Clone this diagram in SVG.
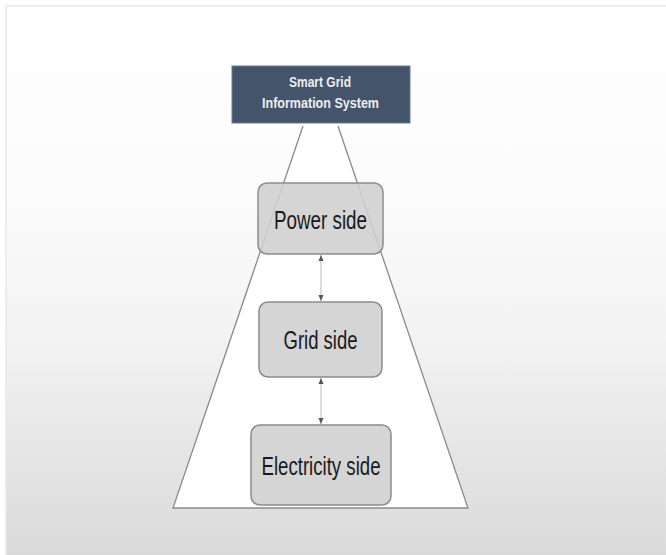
<svg xmlns="http://www.w3.org/2000/svg" width="666" height="555" viewBox="0 0 666 555">
<defs>
<linearGradient id="bg" x1="0" y1="0" x2="0" y2="1">
<stop offset="0" stop-color="#ffffff"/>
<stop offset="0.35" stop-color="#fbfbfb"/>
<stop offset="0.6" stop-color="#f3f3f3"/>
<stop offset="1" stop-color="#dadada"/>
</linearGradient>
<marker id="ah" viewBox="0 0 6 6" refX="6" refY="3" markerWidth="6" markerHeight="6" orient="auto-start-reverse" markerUnits="userSpaceOnUse">
<path d="M0,0.5 L6,3 L0,5.5 Z" fill="#555"/>
</marker>
<style>
.side{fill:#cfcfcf;fill-opacity:0.88;stroke:#8c8c8c;stroke-width:1.5}
.lbl{font-family:"Liberation Sans",Arial,sans-serif;font-size:26px;fill:#1a1a1a;text-anchor:middle}
.hdr{font-family:"Liberation Sans",Arial,sans-serif;font-size:14.5px;font-weight:bold;fill:#eceef2;text-anchor:middle}
.con{stroke:#c4c4c4;stroke-width:1.2;fill:none}
</style>
</defs>
<rect x="0" y="0" width="666" height="555" fill="#ffffff"/>
<rect x="6" y="6" width="660" height="549" fill="url(#bg)"/>
<path d="M6,555 L6,6 L666,6" fill="none" stroke="#e8e8e8" stroke-width="1.5"/>
<g id="pyramid">
<polygon points="303,126 338,126 468,508 173,508" fill="#ffffff" stroke="none"/>
<path d="M303,126 L173,508 L468,508 L338,126" fill="none" stroke="#8a8a8a" stroke-width="1.3"/>
</g>
<g id="header">
<rect x="232" y="66" width="178" height="57" fill="#44546a" stroke="#6d7b8f" stroke-width="1"/>
<text class="hdr" x="320" y="87" textLength="62" lengthAdjust="spacingAndGlyphs">Smart Grid</text>
<text class="hdr" x="320.5" y="107.5" textLength="117" lengthAdjust="spacingAndGlyphs">Information System</text>
</g>
<g id="connectors">
<line class="con" x1="321" y1="255" x2="321" y2="301" marker-start="url(#ah)" marker-end="url(#ah)"/>
<line class="con" x1="321" y1="378" x2="321" y2="424" marker-start="url(#ah)" marker-end="url(#ah)"/>
</g>
<g id="power">
<rect class="side" x="258" y="183" width="125" height="71" rx="9"/>
<text class="lbl" x="320.5" y="229" textLength="93" lengthAdjust="spacingAndGlyphs">Power side</text>
</g>
<g id="grid">
<rect class="side" x="259" y="302" width="123" height="75" rx="9"/>
<text class="lbl" x="320.5" y="349" textLength="74" lengthAdjust="spacingAndGlyphs">Grid side</text>
</g>
<g id="electricity">
<rect class="side" x="251" y="425" width="140" height="80" rx="9"/>
<text class="lbl" x="321" y="475" textLength="119" lengthAdjust="spacingAndGlyphs">Electricity side</text>
</g>
</svg>
